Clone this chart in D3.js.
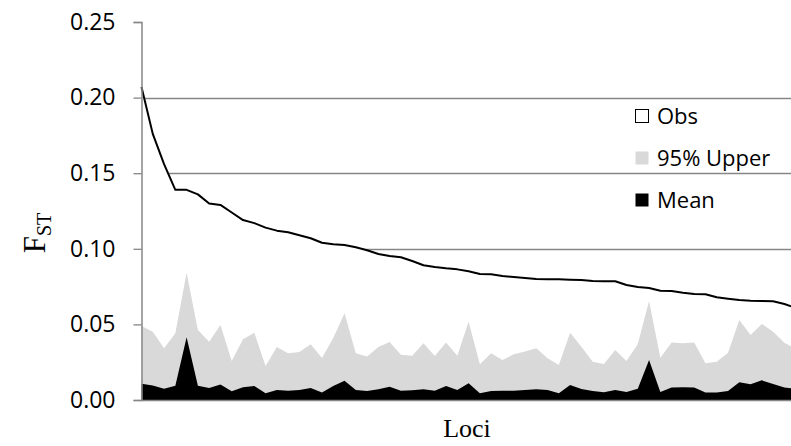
<!DOCTYPE html>
<html><head><meta charset="utf-8">
<script src="https://cdn.jsdelivr.net/npm/d3@7"></script>
<style>body{margin:0;background:#fff}svg{display:block}</style>
</head><body>
<svg id="c" width="791" height="446"></svg>
<script>
// ---- data ----
const loci = d3.range(1, 60);
const obs = [0.207,0.176,0.156,0.139,0.139,0.136,0.130,0.129,0.124,0.119,
  0.117,0.114,0.112,0.111,0.109,0.107,0.104,0.103,0.1025,0.101,
  0.099,0.0966,0.0952,0.0944,0.0919,0.0891,0.088,0.0871,0.0864,0.0851,
  0.0833,0.0831,0.082,0.0813,0.0807,0.080,0.0798,0.0798,0.0796,0.0794,
  0.0787,0.0785,0.0785,0.0761,0.0747,0.0741,0.0723,0.0721,0.071,0.0701,
  0.0699,0.0679,0.067,0.0661,0.0657,0.0655,0.0653,0.0635,0.061];
const upper95 = [0.0489,0.0452,0.0342,0.0441,0.0842,0.0463,0.0386,0.0496,0.0258,0.0401,
  0.0445,0.0225,0.0350,0.0309,0.0318,0.0368,0.0278,0.0410,0.0573,0.0309,
  0.0287,0.0350,0.0384,0.0300,0.0293,0.0375,0.0291,0.0381,0.0293,0.0518,
  0.0236,0.0309,0.0265,0.0302,0.0320,0.0342,0.0276,0.0231,0.0445,0.0353,
  0.0253,0.0238,0.0331,0.0258,0.0370,0.0655,0.0280,0.0381,0.0375,0.0381,
  0.0243,0.0253,0.0313,0.0529,0.0430,0.0503,0.0452,0.0379,0.0340];
const mean = [0.0108,0.0096,0.0075,0.0094,0.0415,0.0094,0.0080,0.0102,0.0058,0.0084,
  0.0093,0.0044,0.0066,0.0062,0.0066,0.0080,0.0050,0.0093,0.0128,0.0066,
  0.0060,0.0071,0.0088,0.0062,0.0064,0.0071,0.0062,0.0093,0.0066,0.0110,
  0.0044,0.0060,0.0062,0.0062,0.0066,0.0071,0.0066,0.0044,0.0099,0.0073,
  0.0060,0.0051,0.0066,0.0053,0.0075,0.0265,0.0053,0.0082,0.0084,0.0082,
  0.0049,0.0049,0.0060,0.0117,0.0104,0.0130,0.0106,0.0082,0.0075];
const yTicks = [0, 0.05, 0.10, 0.15, 0.20, 0.25];
const gridTicks = [0.05, 0.10, 0.15, 0.20];
const legendLabels = ["Obs", "95% Upper", "Mean"];
const legendFills = ["#ffffff", "#d9d9d9", "#000000"];

// ---- layout ----
const svg = d3.select("#c");
const x = d3.scalePoint().domain(loci).range([141.5, 795.7]);
const y = d3.scaleLinear().domain([0, 0.25]).range([400, 22]);
const font = "'Open Sans', sans-serif";
const serif = "'Liberation Serif', 'Times New Roman', serif";

// gridlines
svg.append("g").selectAll("line").data(gridTicks).join("line")
  .attr("x1", 141.5).attr("x2", 800)
  .attr("y1", d => Math.round(y(d)) + 0.5).attr("y2", d => Math.round(y(d)) + 0.5)
  .attr("stroke", "#868686").attr("stroke-width", 1.3);

const areaOf = arr => d3.area()
  .x((d, i) => x(loci[i])).y0(y(0)).y1(d => y(d))(arr);

svg.append("path").attr("d", areaOf(obs)).attr("fill", "#fff");
svg.append("path").attr("d", areaOf(upper95)).attr("fill", "#d9d9d9");
svg.append("path").attr("d", areaOf(mean)).attr("fill", "#000");
svg.append("path")
  .attr("d", d3.line().x((d, i) => x(loci[i])).y(d => y(d))(obs))
  .attr("fill", "none").attr("stroke", "#000").attr("stroke-width", 2)
  .attr("stroke-linejoin", "round");

// axes
const yAxis = d3.axisLeft(y).tickValues(yTicks).tickFormat(d3.format(".2f"))
  .tickSize(8).tickPadding(18);
const ga = svg.append("g").attr("transform", "translate(141.5,0)").call(yAxis);
ga.select(".domain").attr("stroke", "#868686").attr("stroke-width", 1.5);
ga.selectAll(".tick line").attr("stroke", "#868686").attr("stroke-width", 1.3);
ga.selectAll(".tick text").attr("font-family", font).attr("font-size", 23)
  .attr("fill", "#000");

svg.append("line").attr("x1", 141.5).attr("x2", 800)
  .attr("y1", y(0) + 0.5).attr("y2", y(0) + 0.5)
  .attr("stroke", "#868686").attr("stroke-width", 1.5);

// axis titles
svg.append("text").attr("x", 467).attr("y", 437).attr("text-anchor", "middle")
  .attr("font-family", serif).attr("font-size", 26).text("Loci");
const yt = svg.append("text")
  .attr("transform", "translate(45,233) rotate(-90)").attr("text-anchor", "middle")
  .attr("font-family", serif).attr("font-size", 31);
yt.append("tspan").text("F");
yt.append("tspan").attr("font-size", 20).attr("dy", 6).text("ST");

// legend
const lg = svg.append("g").selectAll("g").data(legendLabels).join("g")
  .attr("transform", (d, i) => `translate(635,${116 + i * 42})`);
lg.append("rect").attr("x", 0.5).attr("y", -6.5).attr("width", 13).attr("height", 13)
  .attr("fill", (d, i) => legendFills[i])
  .attr("stroke", (d, i) => i === 0 ? "#000" : "none").attr("stroke-width", 1);
lg.append("text").attr("x", 22).attr("y", 0).attr("dy", "0.35em")
  .attr("font-family", font).attr("font-size", 22).text(d => d);
</script>
</body></html>
